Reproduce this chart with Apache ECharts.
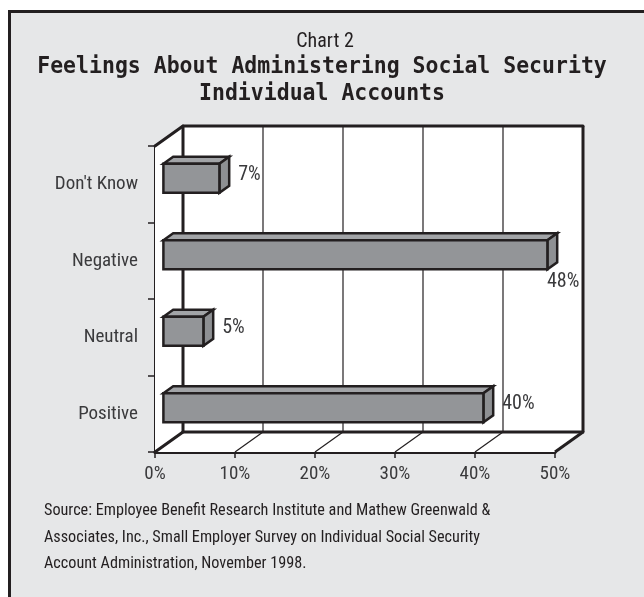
<!DOCTYPE html>
<html><head><meta charset="utf-8">
<script src="https://cdn.jsdelivr.net/npm/echarts@6/dist/echarts.min.js"></script>
<style>html,body{margin:0;padding:0;background:#fff}#c{width:644px;height:597px}</style>
</head><body><div id="c"></div>
<script>
const categories = ['Positive', 'Neutral', 'Negative', "Don't Know"];
const values = [40, 5, 48, 7];
const valueLabels = ['40%', '5%', '48%', '7%'];
const ticks = [0, 10, 20, 30, 40, 50];
const titleTop = 'Chart 2';
const titleMain = ['Feelings About Administering Social Security', 'Individual Accounts'];
const sourceLines = [
  'Source: Employee Benefit Research Institute and Mathew Greenwald &',
  'Associates, Inc., Small Employer Survey on Individual Social Security',
  'Account Administration, November 1998.'
];

const DX = 28, DY = -20;
const INK = '#231f20';
const NARROW = "'Liberation Sans Narrow','Arial Narrow','Roboto Condensed',Roboto,sans-serif";
const MONO = "'DejaVu Sans Mono',monospace";

const chart = echarts.init(document.getElementById('c'), null, {renderer: 'canvas'});

function frameItem(params, api) {
  const cs = params.coordSys;
  const x = cs.x, y = cs.y, w = cs.width, h = cs.height;
  const kids = [];
  kids.push({type: 'polygon', shape: {points: [[x, y], [x + DX, y + DY], [x + w + DX, y + DY], [x + w + DX, y + h + DY], [x + w, y + h], [x, y + h]]}, style: {fill: '#ffffff', stroke: null}});
  ticks.forEach(function (t, k) {
    const px = api.coord([t, 0])[0];
    const edge = (k === 0 || k === ticks.length - 1);
    kids.push({type: 'line', shape: {x1: px + DX, y1: y + DY, x2: px + DX, y2: y + h + DY}, style: {stroke: INK, lineWidth: edge ? 3 : 1.2}});
    if (k > 0) kids.push({type: 'line', shape: {x1: px, y1: y + h, x2: px + DX, y2: y + h + DY}, style: {stroke: INK, lineWidth: edge ? 3 : 1.2}});
  });
  const thick = {stroke: INK, lineWidth: 3, lineCap: 'round'};
  kids.push({type: 'line', shape: {x1: x, y1: y, x2: x + DX, y2: y + DY}, style: thick});
  kids.push({type: 'line', shape: {x1: x + DX, y1: y + DY, x2: x + w + DX, y2: y + DY}, style: thick});
  kids.push({type: 'line', shape: {x1: x + DX, y1: y + h + DY, x2: x + w + DX, y2: y + h + DY}, style: thick});
  kids.push({type: 'line', shape: {x1: x, y1: y + h, x2: x + DX, y2: y + h + DY}, style: thick});
  return {type: 'group', children: kids};
}

function barItem(params, api) {
  const cs = params.coordSys;
  const v = api.value(0), i = api.value(1);
  const p0 = api.coord([0, i]);
  const p1 = api.coord([v, i]);
  const band = api.size([0, 1])[1];
  const bh = band * 0.38;
  const f1 = 0.3, f2 = 0.65;
  const x0 = p0[0] + DX * f1, x1 = p1[0] + DX * f1;
  const yc = p0[1] + DY * f1;
  const top = yc - bh / 2, bot = yc + bh / 2;
  const ddx = DX * (f2 - f1), ddy = DY * (f2 - f1);
  const st = {stroke: INK, lineWidth: 2.5, lineJoin: 'miter'};
  const kids = [
    {type: 'polygon', shape: {points: [[x0, top], [x0 + ddx, top + ddy], [x1 + ddx, top + ddy], [x1, top]]}, style: Object.assign({fill: '#a2a4a7'}, st)},
    {type: 'polygon', shape: {points: [[x1, top], [x1 + ddx, top + ddy], [x1 + ddx, bot + ddy], [x1, bot]]}, style: Object.assign({fill: '#8e9093'}, st)},
    {type: 'rect', shape: {x: x0, y: top, width: x1 - x0, height: bh}, style: Object.assign({fill: '#939598'}, st)}
  ];
  const label = valueLabels[params.dataIndex];
  const wallRight = cs.x + cs.width + DX;
  const lx = x1 + ddx + 9;
  const tstyle = {text: label, fill: '#3a3a3c', font: '20px ' + NARROW};
  if (lx + 34 > wallRight) {
    kids.push({type: 'text', x: x1 + ddx + 6, y: bot + 3, style: Object.assign({textAlign: 'center', textVerticalAlign: 'top'}, tstyle)});
  } else {
    kids.push({type: 'text', x: lx, y: yc + ddy / 2, style: Object.assign({textAlign: 'left', textVerticalAlign: 'middle'}, tstyle)});
  }
  return {type: 'group', children: kids};
}

const option = {
  backgroundColor: '#ffffff',
  animation: false,
  graphic: [
    {type: 'rect', z: -10, shape: {x: 9.5, y: 11.5, width: 700, height: 700}, style: {fill: '#e6e7e8', stroke: INK, lineWidth: 3}},
    {type: 'text', x: 325, y: 42, style: {text: titleTop, font: '20px ' + NARROW, fill: INK, textAlign: 'center', textVerticalAlign: 'middle'}},
    {type: 'text', x: 322, y: 67, scaleY: 1.06, style: {text: titleMain[0], font: 'bold 21.5px ' + MONO, fill: INK, textAlign: 'center', textVerticalAlign: 'middle'}},
    {type: 'text', x: 322, y: 94, scaleY: 1.06, style: {text: titleMain[1], font: 'bold 21.5px ' + MONO, fill: INK, textAlign: 'center', textVerticalAlign: 'middle'}},
    {type: 'text', left: 44, top: 498, style: {text: sourceLines.join('\n'), font: '16.2px ' + NARROW, lineHeight: 26.5, fill: INK}}
  ],
  grid: {left: 155, top: 146, width: 400, height: 306, containLabel: false},
  xAxis: {
    type: 'value', min: 0, max: 50, interval: 10,
    axisLine: {show: true, lineStyle: {color: INK, width: 3}},
    axisTick: {show: true, length: 6, lineStyle: {color: INK, width: 1.5}},
    splitLine: {show: false},
    axisLabel: {formatter: '{value}%', margin: 13, fontFamily: NARROW, fontSize: 19, color: '#3a3a3c'}
  },
  yAxis: {
    type: 'category', data: categories,
    axisLine: {show: true, lineStyle: {color: INK, width: 3}},
    axisTick: {show: true, length: 7, lineStyle: {color: INK, width: 1.5}},
    axisLabel: {margin: 17, fontFamily: NARROW, fontSize: 19, color: '#3a3a3c'}
  },
  series: [
    {type: 'custom', z: 1, renderItem: frameItem, data: [[0, 0]], silent: true},
    {type: 'custom', z: 3, renderItem: barItem, data: values.map(function (v, i) { return [v, i]; }), encode: {x: 0, y: 1}}
  ]
};
chart.setOption(option);
</script>
</body></html>
